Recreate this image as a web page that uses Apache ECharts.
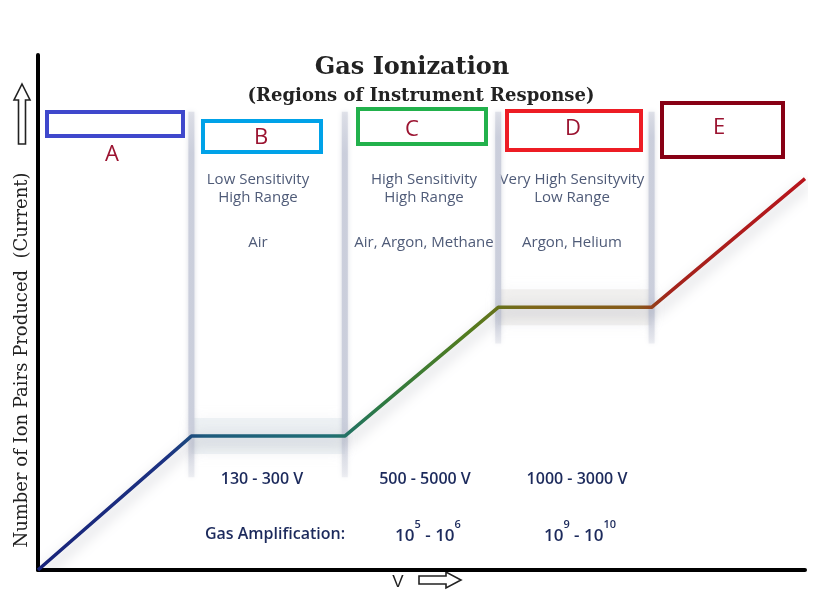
<!DOCTYPE html>
<html>
<head>
<meta charset="utf-8">
<script src="https://cdn.jsdelivr.net/npm/echarts@6/dist/echarts.min.js"></script>
<style>html,body{margin:0;padding:0;background:#fff}#c{width:828px;height:602px}</style>
</head>
<body>
<div id="c"></div>
<script>
// ---- data ----
const voltage = [0, 20, 40, 60, 80, 100];
const response = [0, 26, 26, 51, 51, 76];
const dividers = [20, 40, 60, 80];
const dividerTop = [89, 89, 89, 89];
const dividerBottom = [18, 18, 44, 44];
const plateauB = [[20, 26], [40, 26]];
const plateauD = [[60, 51], [80, 51]];
const regionNames = ['A', 'B', 'C', 'D', 'E'];
const sensitivity = ['Low Sensitivity\nHigh Range', 'High Sensitivity\nHigh Range', 'Very High Sensityvity\nLow Range'];
const gases = ['Air', 'Air, Argon, Methane', 'Argon, Helium'];
const voltageRanges = ['130 - 300 V', '500 - 5000 V', '1000 - 3000 V'];
const amplification = [['5', '6'], ['9', '10']];

const chart = echarts.init(document.getElementById('c'));

const series = [];
// vertical region dividers
dividers.forEach((x, i) => {
  series.push({
    type: 'line', silent: true, symbol: 'none', z: 1,
    data: [[x, dividerTop[i]], [x, dividerBottom[i]]],
    lineStyle: {
      width: 6,
      color: new echarts.graphic.LinearGradient(0, 0, 0, 1, [
        { offset: 0, color: 'rgba(205,208,220,0.5)' },
        { offset: 0.12, color: 'rgba(200,204,218,0.9)' },
        { offset: 0.85, color: 'rgba(200,204,218,0.9)' },
        { offset: 1, color: 'rgba(205,208,220,0.25)' }
      ]),
      shadowBlur: 5, shadowColor: 'rgba(160,165,185,0.45)'
    }
  });
});
// plateau glow bands
[plateauB, plateauD].forEach((d, i) => {
  series.push({
    type: 'line', silent: true, symbol: 'none', z: 0,
    data: d,
    lineStyle: { width: 36, cap: 'butt', color: i === 0 ? 'rgba(205,220,226,0.3)' : 'rgba(218,214,208,0.3)', shadowBlur: 14, shadowColor: 'rgba(200,205,215,0.5)' }
  });
});
// main response curve
series.push({
  type: 'line', silent: true, symbol: 'none', z: 5,
  data: voltage.map((v, i) => [v, response[i]]),
  lineStyle: {
    width: 3.5,
    color: new echarts.graphic.LinearGradient(0, 0, 1, 0, [
      { offset: 0, color: '#18237a' },
      { offset: 0.17, color: '#1c3282' },
      { offset: 0.22, color: '#1d5a7c' },
      { offset: 0.38, color: '#1f6e74' },
      { offset: 0.45, color: '#2e7a42' },
      { offset: 0.56, color: '#527c1e' },
      { offset: 0.64, color: '#7c661a' },
      { offset: 0.78, color: '#86591a' },
      { offset: 0.82, color: '#a3241c' },
      { offset: 1, color: '#b8141c' }
    ]),
    shadowBlur: 14, shadowColor: 'rgba(40,45,70,0.33)', shadowOffsetX: 3, shadowOffsetY: 5
  }
});

const descColor = '#4f5b78';
const darkBlue = '#1c2a5c';
const labelRed = '#9b1330';
const descX = [258, 424, 572];
const graphics = [];

// region boxes
const boxes = [
  { x: 47, y: 112, w: 136, h: 24, c: '#3f48cc', lx: 112, ly: 155 },
  { x: 203, y: 121, w: 118, h: 31, c: '#00a2e8', lx: 261, ly: 138 },
  { x: 358, y: 109, w: 128, h: 35, c: '#22b14c', lx: 412, ly: 130 },
  { x: 507, y: 111, w: 134, h: 39, c: '#ed1c24', lx: 573, ly: 129 },
  { x: 662, y: 103, w: 121, h: 54, c: '#880015', lx: 719, ly: 128 }
];
boxes.forEach((b, i) => {
  graphics.push({ type: 'rect', shape: { x: b.x, y: b.y, width: b.w, height: b.h }, style: { fill: 'none', stroke: b.c, lineWidth: 4 } });
  graphics.push({ type: 'text', x: b.lx, y: b.ly, style: { text: regionNames[i], fill: labelRed, font: '22px "Open Sans", sans-serif', textAlign: 'center', textVerticalAlign: 'middle' } });
});

sensitivity.forEach((t, i) => {
  graphics.push({ type: 'text', x: descX[i], y: 171, style: { text: t, fill: descColor, font: '15px "Open Sans", sans-serif', textAlign: 'center', lineHeight: 18, letterSpacing: -0.5 } });
  graphics.push({ type: 'text', x: descX[i], y: 235, style: { text: gases[i], fill: descColor, font: '15px "Open Sans", sans-serif', textAlign: 'center', letterSpacing: -0.5 } });
});
const rangeX = [262, 425, 577];
voltageRanges.forEach((t, i) => {
  graphics.push({ type: 'text', x: rangeX[i], y: 479, style: { text: t, fill: darkBlue, font: '600 16px "Open Sans", sans-serif', textAlign: 'center', textVerticalAlign: 'middle', letterSpacing: -0.5 } });
});
graphics.push({ type: 'text', x: 275, y: 534, style: { text: 'Gas Amplification:', fill: darkBlue, font: '600 16px "Open Sans", sans-serif', textAlign: 'center', textVerticalAlign: 'middle', letterSpacing: -0.3 } });
const ampX = [428, 580];
amplification.forEach((p, i) => {
  graphics.push({
    type: 'text', x: ampX[i], y: 532,
    style: {
      text: '{b|10}{s|' + p[0] + '}{b| - 10}{s|' + p[1] + '}',
      textAlign: 'center', textVerticalAlign: 'middle',
      rich: {
        b: { fontSize: 17, fontWeight: 600, fontFamily: 'Open Sans', fill: darkBlue, color: darkBlue, verticalAlign: 'bottom', lineHeight: 25 },
        s: { fontSize: 11, fontWeight: 600, fontFamily: 'Open Sans', fill: darkBlue, color: darkBlue, verticalAlign: 'top', lineHeight: 25 }
      }
    }
  });
});

// title
graphics.push({ type: 'text', x: 412, y: 68, style: { text: 'Gas Ionization', fill: '#222', font: 'bold 24px "DejaVu Serif", serif', textAlign: 'center', textVerticalAlign: 'middle' } });
graphics.push({ type: 'text', x: 421, y: 96, style: { text: '(Regions of Instrument Response)', fill: '#222', font: 'bold 18px "DejaVu Serif", serif', textAlign: 'center', textVerticalAlign: 'middle' } });

// y axis label
graphics.push({ type: 'text', x: 22, y: 360, rotation: Math.PI / 2, style: { text: 'Number of Ion Pairs Produced  (Current)', fill: '#222', font: '18px "DejaVu Serif", serif', textAlign: 'center', textVerticalAlign: 'middle', letterSpacing: 0.6 } });
// y arrow (outlined, pointing up)
graphics.push({ type: 'polygon', shape: { points: [[22, 84], [30, 100], [25.5, 100], [25.5, 144], [18.5, 144], [18.5, 100], [14, 100]] }, style: { fill: '#fff', stroke: '#222', lineWidth: 1.6 } });
// x label
graphics.push({ type: 'text', x: 398, y: 582, style: { text: 'V', fill: '#222', font: '17px "Liberation Sans", sans-serif', textAlign: 'center', textVerticalAlign: 'middle' } });
graphics.push({ type: 'polygon', shape: { points: [[419, 576], [446, 576], [446, 572], [461, 580], [446, 588], [446, 584], [419, 584]] }, style: { fill: '#fff', stroke: '#222', lineWidth: 1.6 } });

chart.setOption({
  animation: false,
  backgroundColor: '#fff',
  grid: { left: 38, right: 23, top: 55, bottom: 32 },
  xAxis: {
    type: 'value', min: 0, max: 100,
    axisLine: { show: true, onZero: false, lineStyle: { color: '#000', width: 4 } },
    axisTick: { show: false }, axisLabel: { show: false }, splitLine: { show: false }
  },
  yAxis: {
    type: 'value', min: 0, max: 100,
    axisLine: { show: true, onZero: false, lineStyle: { color: '#000', width: 4 } },
    axisTick: { show: false }, axisLabel: { show: false }, splitLine: { show: false }
  },
  series: series,
  graphic: graphics
});
</script>
</body>
</html>
